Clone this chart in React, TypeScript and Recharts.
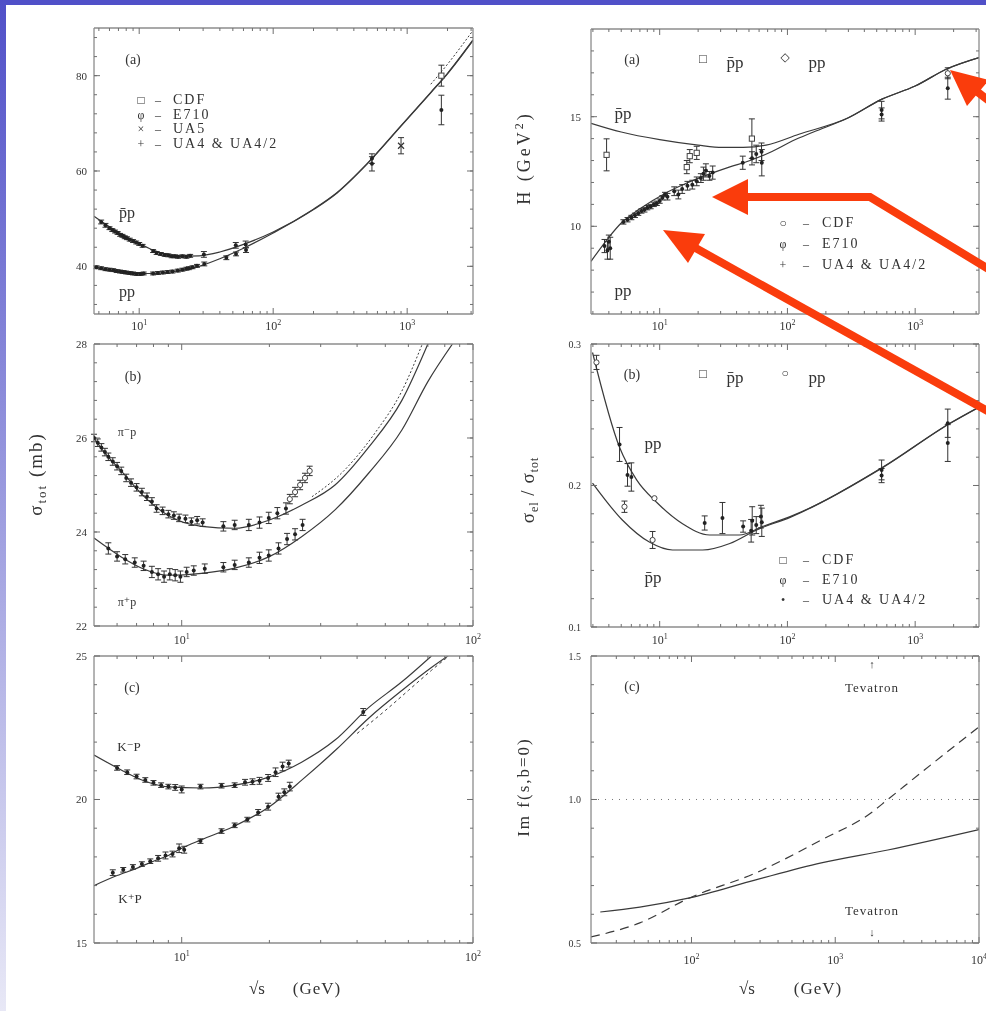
import React from "react";
import { ComposedChart, Line, Scatter, XAxis, YAxis, ErrorBar, ReferenceLine } from "recharts";

const FONT = "'Liberation Serif', 'DejaVu Serif', serif";
const INK = "#333";
const FRAME = "#8c8c8c";
const CURVE = "#3a3a3a";
const RED = "#fa3c0c";
const THIN = 0.01;

// left (a): sigma_tot for pbar-p and pp, [sqrt(s), mb, err]
const LA_PBARP_FIT = [[4.6, 50.5], [6, 48.3], [8, 46.2], [10, 44.8], [13, 43.3], [16, 42.5], [20, 42.1], [28, 42.2], [40, 43.0], [60, 44.6], [100, 47.2], [200, 52.0], [300, 55.5], [500, 61.5], [900, 69.5], [1500, 76.5], [2000, 80.5], [3100, 87.5]];
const LA_PP_FIT = [[4.6, 39.9], [6, 39.2], [8, 38.7], [10, 38.5], [13, 38.5], [16, 38.7], [20, 39.1], [28, 40.0], [40, 41.6], [60, 43.8], [100, 47.0], [200, 51.9], [300, 55.4], [500, 61.4], [900, 69.4], [1500, 76.4], [2000, 80.4], [3100, 87.4]];
const LA_BAND = [[1500, 78.2], [2000, 82.4], [3100, 89.5]];
const LA_PBARP_DATA = [[5.2, 49.3, 0.4], [5.6, 48.6, 0.4], [6.0, 48.0, 0.3], [6.3, 47.6, 0.3], [6.6, 47.3, 0.3], [6.9, 47.0, 0.3], [7.2, 46.6, 0.3], [7.5, 46.4, 0.3], [7.8, 46.1, 0.3], [8.1, 45.9, 0.3], [8.5, 45.6, 0.3], [9.0, 45.3, 0.3], [9.5, 45.0, 0.3], [10.0, 44.7, 0.3], [10.6, 44.3, 0.3], [12.7, 43.2, 0.3], [13.5, 42.8, 0.3], [14.5, 42.6, 0.3], [15.5, 42.4, 0.3], [16.5, 42.3, 0.3], [17.5, 42.1, 0.3], [18.5, 42.1, 0.3], [19.5, 42.0, 0.3], [21, 42.1, 0.3], [22.5, 42.0, 0.3], [24, 42.2, 0.3], [30.4, 42.5, 0.6], [52.6, 44.4, 0.6], [62.3, 44.6, 0.7]];
const LA_PP_DATA = [[4.8, 39.8, 0.3], [5.2, 39.6, 0.3], [5.6, 39.4, 0.3], [6.0, 39.3, 0.3], [6.4, 39.2, 0.3], [6.8, 39.0, 0.3], [7.2, 38.9, 0.3], [7.6, 38.8, 0.3], [8.0, 38.7, 0.3], [8.5, 38.6, 0.3], [9.0, 38.5, 0.3], [9.6, 38.4, 0.3], [10.2, 38.4, 0.3], [10.8, 38.5, 0.3], [12.7, 38.5, 0.3], [13.8, 38.6, 0.3], [15, 38.7, 0.3], [16.3, 38.8, 0.3], [17.7, 38.9, 0.3], [19.4, 39.1, 0.3], [21, 39.3, 0.3], [22.5, 39.5, 0.3], [23.5, 39.6, 0.3], [25, 39.8, 0.3], [27, 40.1, 0.3], [30.6, 40.5, 0.4], [44.7, 41.8, 0.4], [52.8, 42.6, 0.4], [62.7, 43.4, 0.5]];
const LA_UA4 = [[546, 61.5, 1.5], [546, 62.6, 1.0]];
const LA_UA5 = [[900, 65.3, 1.7]];
const LA_E710 = [[1800, 72.8, 3.1]];
const LA_CDF = [[1800, 80.0, 2.2]];

// left (b): pi-p and pi+p
const LB_PIMP_FIT = [[5, 26.0], [5.5, 25.65], [6.2, 25.3], [7.3, 24.8], [9, 24.35], [11.7, 24.12], [15.2, 24.08], [19.9, 24.25], [25.8, 24.57], [33.6, 25.0], [43.8, 25.8], [57, 26.8], [70, 28.0]];
const LB_PIPP_FIT = [[5, 23.87], [6.2, 23.47], [7.3, 23.23], [9, 23.08], [11.7, 23.12], [15.2, 23.23], [19.9, 23.47], [25.8, 23.9], [33.6, 24.47], [43.8, 25.25], [57, 26.17], [70, 27.2], [85, 28.0]];
const LB_BAND = [[28, 24.75], [36, 25.3], [46, 26.1], [57, 27.0], [67, 28.0]];
const LB_PIMP_DATA = [[5.0, 26.0, 0.08], [5.15, 25.9, 0.08], [5.3, 25.8, 0.08], [5.45, 25.7, 0.08], [5.6, 25.6, 0.08], [5.8, 25.5, 0.08], [6.0, 25.4, 0.08], [6.2, 25.3, 0.08], [6.45, 25.15, 0.08], [6.7, 25.05, 0.08], [7.0, 24.95, 0.08], [7.3, 24.85, 0.08], [7.6, 24.75, 0.08], [7.9, 24.65, 0.08], [8.2, 24.5, 0.08], [8.6, 24.45, 0.08], [9.0, 24.38, 0.08], [9.4, 24.35, 0.08], [9.8, 24.3, 0.08], [10.3, 24.28, 0.08], [10.8, 24.22, 0.08], [11.3, 24.25, 0.08], [11.8, 24.2, 0.08], [13.9, 24.12, 0.1], [15.2, 24.15, 0.1], [17.0, 24.15, 0.12], [18.5, 24.2, 0.12], [19.9, 24.3, 0.12], [21.3, 24.4, 0.12], [22.8, 24.5, 0.12]];
const LB_PIMP_ISR = [[23.5, 24.7, 0.1], [24.5, 24.85, 0.1], [25.5, 25.0, 0.1], [26.5, 25.15, 0.1], [27.5, 25.3, 0.1]];
const LB_PIPP_DATA = [[5.6, 23.65, 0.12], [6.0, 23.48, 0.1], [6.4, 23.42, 0.1], [6.9, 23.35, 0.1], [7.4, 23.28, 0.1], [7.9, 23.15, 0.12], [8.3, 23.1, 0.12], [8.7, 23.05, 0.12], [9.1, 23.1, 0.12], [9.5, 23.08, 0.12], [9.9, 23.05, 0.12], [10.4, 23.15, 0.1], [11.0, 23.18, 0.1], [12.0, 23.22, 0.1], [13.9, 23.25, 0.1], [15.2, 23.3, 0.1], [17.0, 23.35, 0.1], [18.5, 23.45, 0.12], [19.9, 23.5, 0.12], [21.5, 23.65, 0.12], [23.0, 23.85, 0.12], [24.5, 23.95, 0.12], [26.0, 24.15, 0.12]];

// left (c): K-p and K+p
const LC_KMP_FIT = [[5, 21.55], [6.2, 21.03], [7.3, 20.68], [9, 20.44], [11.7, 20.4], [15.2, 20.5], [19.9, 20.78], [25.8, 21.3], [33.6, 22.07], [43.8, 23.2], [57, 24.1], [72, 25.0]];
const LC_KPP_FIT = [[5, 17.0], [6, 17.35], [7, 17.6], [8, 17.85], [9, 18.05], [10, 18.3], [11.7, 18.6], [15, 19.05], [20, 19.75], [26, 20.7], [34, 21.75], [44, 22.85], [57, 23.8], [72, 24.6], [82, 25.0]];
const LC_BAND = [[40, 22.3], [50, 23.1], [60, 23.8], [72, 24.5], [85, 25.1]];
const LC_KMP_DATA = [[6.0, 21.1, 0.08], [6.5, 20.95, 0.08], [7.0, 20.8, 0.08], [7.5, 20.68, 0.08], [8.0, 20.58, 0.08], [8.5, 20.5, 0.08], [9.0, 20.45, 0.08], [9.5, 20.42, 0.1], [10.0, 20.35, 0.12], [11.6, 20.45, 0.08], [13.7, 20.48, 0.08], [15.2, 20.5, 0.08], [16.5, 20.6, 0.1], [17.5, 20.62, 0.1], [18.5, 20.65, 0.12], [19.8, 20.75, 0.12], [21.0, 20.95, 0.15], [22.2, 21.15, 0.15], [23.3, 21.25, 0.12], [42, 23.05, 0.12]];
const LC_KPP_DATA = [[5.8, 17.45, 0.1], [6.3, 17.55, 0.08], [6.8, 17.65, 0.08], [7.3, 17.75, 0.08], [7.8, 17.85, 0.08], [8.3, 17.95, 0.1], [8.8, 18.05, 0.12], [9.3, 18.1, 0.1], [9.8, 18.3, 0.15], [10.2, 18.25, 0.12], [11.6, 18.55, 0.08], [13.7, 18.9, 0.08], [15.2, 19.1, 0.08], [16.8, 19.3, 0.08], [18.3, 19.55, 0.1], [19.8, 19.75, 0.12], [21.5, 20.1, 0.12], [22.5, 20.25, 0.12], [23.5, 20.45, 0.15]];

// right (a): slope H (GeV^2)
const RA_PBARP_FIT = [[2.9, 14.7], [5, 14.3], [10, 13.95], [20, 13.7], [31, 13.6], [45, 13.6], [68, 13.7], [123, 14.2], [300, 14.95], [550, 15.8], [1000, 16.4], [1800, 17.2], [3160, 17.7]];
const RA_PP_FIT = [[2.9, 8.4], [4, 9.5], [5, 10.15], [7, 10.8], [11, 11.5], [16, 11.95], [25, 12.4], [35, 12.7], [51, 13.0], [75, 13.4], [110, 13.9], [160, 14.3], [300, 14.95], [550, 15.8], [1000, 16.4], [1800, 17.2], [3160, 17.7]];
const RA_PBARP_OPEN = [[3.84, 13.26, 0.73], [16.3, 12.7, 0.3], [17.2, 13.2, 0.3], [19.5, 13.35, 0.3], [52.7, 14.0, 0.9]];
const RA_PP_DATA = [[3.7, 9.1, 0.3], [3.9, 8.9, 0.4], [4.0, 9.3, 0.3], [4.1, 9.0, 0.5], [5.2, 10.2, 0.1], [5.6, 10.3, 0.1], [6.0, 10.4, 0.1], [6.4, 10.5, 0.1], [6.8, 10.6, 0.1], [7.2, 10.7, 0.1], [7.6, 10.75, 0.1], [8.0, 10.85, 0.1], [8.5, 10.9, 0.1], [9.0, 11.0, 0.1], [9.5, 11.05, 0.1], [10.0, 11.15, 0.1], [10.5, 11.3, 0.1], [11.0, 11.45, 0.1], [11.5, 11.35, 0.15], [13.0, 11.6, 0.2], [14.0, 11.45, 0.2], [15.0, 11.7, 0.2], [16.5, 11.85, 0.2], [18.0, 11.9, 0.2], [19.5, 12.05, 0.2], [21.0, 12.2, 0.2], [22.0, 12.4, 0.3], [23.0, 12.55, 0.3], [24.5, 12.3, 0.2], [26.0, 12.45, 0.3], [44.7, 12.9, 0.3], [52.8, 13.1, 0.3], [57, 13.3, 0.4], [62.7, 13.4, 0.4], [63, 12.9, 0.6], [546, 15.3, 0.4], [546, 15.1, 0.3], [1800, 16.3, 0.5]];
const RA_CDF = [[1800, 16.98, 0.25]];

// right (b): sigma_el / sigma_tot
const RB_PP_FIT = [[2.98, 0.294], [4.85, 0.227], [6.6, 0.204], [9.5, 0.188], [15.1, 0.173], [24.6, 0.165], [42, 0.165], [64, 0.171], [105, 0.178], [560, 0.213], [1870, 0.244], [3160, 0.2555]];
const RB_PBARP_FIT = [[2.98, 0.2017], [5.1, 0.1756], [8.3, 0.16], [12.6, 0.1544], [21.7, 0.1544], [35.4, 0.159], [57.5, 0.1686], [105, 0.1775], [560, 0.2128], [1870, 0.2438], [3160, 0.2553]];
const RB_FILLED = [[4.85, 0.229, 0.012], [5.6, 0.2075, 0.008], [6.0, 0.206, 0.01], [22.5, 0.1735, 0.005], [31, 0.177, 0.011], [45, 0.171, 0.004], [52, 0.168, 0.008], [53, 0.175, 0.01], [57, 0.172, 0.006], [62, 0.178, 0.008], [63, 0.174, 0.01], [546, 0.211, 0.007], [546, 0.207, 0.005], [1800, 0.244, 0.01], [1800, 0.23, 0.013]];
const RB_OPEN = [[3.2, 0.287, 0.005], [5.3, 0.185, 0.004], [8.8, 0.1615, 0.006], [9.1, 0.191, 0]];

// right (c): Im f(s, b=0)
const RC_SOLID = [[23.2, 0.608], [43.7, 0.625], [97, 0.657], [280, 0.72], [800, 0.779], [2320, 0.824], [10000, 0.895]];
const RC_DASHED = [[20, 0.521], [43.7, 0.57], [97, 0.657], [280, 0.744], [800, 0.859], [1770, 0.953], [2320, 1.0], [3920, 1.092], [10000, 1.253]];

const P = (a: number[][]) => a.map(([x, y, e = 0]) => ({ x, y, e }));

function logMinor(lo: number, hi: number) {
  const out: number[] = [];
  for (let d = 1; d <= 10000; d *= 10) for (let k = 2; k <= 9; k++) { const v = k * d; if (v > lo && v < hi) out.push(v); }
  return out;
}
function linStep(lo: number, hi: number, step: number) {
  const out: number[] = [];
  const n = Math.round((hi - lo) / step);
  for (let i = 1; i < n; i++) out.push(+(lo + i * step).toFixed(4));
  return out;
}

function PowTick(props: any) {
  const { x, y, payload } = props;
  const e = Math.round(Math.log10(payload.value));
  return (
    <text x={x} y={y + 10} textAnchor="middle" fontFamily={FONT} fontSize={12} fill={INK}>
      10<tspan dy={-5} fontSize={8}>{e}</tspan>
    </text>
  );
}
const NoTick = () => <g />;

const dotShape = (p: any) => <circle cx={p.cx} cy={p.cy} r={2} fill="#222" />;
const ringShape = (p: any) => <circle cx={p.cx} cy={p.cy} r={2.6} fill="#fff" stroke="#444" strokeWidth={1} />;
const boxShape = (p: any) => <rect x={p.cx - 2.6} y={p.cy - 2.6} width={5.2} height={5.2} fill="#fff" stroke="#444" strokeWidth={1} />;
const crossShape = (p: any) => (
  <path d={`M${p.cx - 3},${p.cy - 3}L${p.cx + 3},${p.cy + 3}M${p.cx - 3},${p.cy + 3}L${p.cx + 3},${p.cy - 3}`} stroke="#333" strokeWidth={1.2} />
);

function dots(id: string, data: number[][], shape: any) {
  return (
    <Scatter key={id} data={P(data)} dataKey="y" xAxisId="m" yAxisId="m" shape={shape} isAnimationActive={false}>
      <ErrorBar dataKey="e" direction="y" width={3} stroke="#333" strokeWidth={1} />
    </Scatter>
  );
}
function fit(id: string, data: number[][], extra: any = {}) {
  return (
    <Line key={id} data={P(data)} dataKey="y" xAxisId="m" yAxisId="m" type="monotone" dot={false}
      stroke={CURVE} strokeWidth={1.2} isAnimationActive={false} {...extra} />
  );
}

function Panel({ box, xd, yd, xt, yt, ym, yFmt, xGap = 5, yGap = 7, yFont = 11, children }: any) {
  const [px, py, pw, ph] = box;
  const m = { top: 10, right: 12, bottom: 34, left: 56 };
  const xm = logMinor(xd[0], xd[1]);
  const xs = { type: "number" as const, scale: "log" as const, dataKey: "x", domain: xd, allowDataOverflow: true, interval: 0 as const, height: THIN };
  const ys = { type: "number" as const, domain: yd, allowDataOverflow: true, interval: 0 as const, width: THIN };
  const tl = { stroke: "#6f6f6f", strokeWidth: 1 };
  const fr = { stroke: FRAME, strokeWidth: 1.3 };
  // invisible anchor series so that every log tick axis gets a domain
  const span = P([[xd[0], yd[0]], [xd[1], yd[0]]]);
  const anchor = (id: string) => (
    <Line key={"anc" + id} data={span} dataKey="y" xAxisId={id} yAxisId="m" stroke="none" dot={false} isAnimationActive={false} />
  );
  return (
    <div style={{ position: "absolute", left: px - m.left, top: py - m.top }}>
      <ComposedChart width={pw + m.left + m.right} height={ph + m.top + m.bottom} margin={m}>
        <XAxis xAxisId="m" {...xs} ticks={xt} tickSize={0} tickMargin={xGap} tickLine={false} axisLine={fr} tick={<PowTick />} />
        <XAxis xAxisId="bM" {...xs} ticks={xt} mirror orientation="bottom" tick={NoTick} tickSize={6} tickLine={tl} axisLine={false} />
        <XAxis xAxisId="bm" {...xs} ticks={xm} mirror orientation="bottom" tick={NoTick} tickSize={3} tickLine={tl} axisLine={false} />
        <XAxis xAxisId="tM" {...xs} ticks={xt} mirror orientation="top" tick={NoTick} tickSize={6} tickLine={tl} axisLine={fr} />
        <XAxis xAxisId="tm" {...xs} ticks={xm} mirror orientation="top" tick={NoTick} tickSize={3} tickLine={tl} axisLine={false} />
        <YAxis yAxisId="m" {...ys} ticks={yt} tickSize={0} tickMargin={yGap} tickLine={false} axisLine={fr}
          tickFormatter={yFmt} tick={{ fontSize: yFont, fill: INK, fontFamily: FONT }} />
        <YAxis yAxisId="lM" {...ys} ticks={yt} mirror tick={NoTick} tickSize={6} tickLine={tl} axisLine={false} />
        <YAxis yAxisId="lm" {...ys} ticks={ym} mirror tick={NoTick} tickSize={3} tickLine={tl} axisLine={false} />
        <YAxis yAxisId="rM" {...ys} ticks={yt} mirror orientation="right" tick={NoTick} tickSize={6} tickLine={tl} axisLine={fr} />
        <YAxis yAxisId="rm" {...ys} ticks={ym} mirror orientation="right" tick={NoTick} tickSize={3} tickLine={tl} axisLine={false} />
        {["bM", "bm", "tM", "tm"].map(anchor)}
        {children}
      </ComposedChart>
    </div>
  );
}

function Txt({ x, y, size = 14, rot = 0, left = false, ls = 0, children }: any) {
  return (
    <div style={{
      position: "absolute", left: x, top: y, transform: `translate(${left ? "0" : "-50%"}, -50%) rotate(${rot}deg)`,
      fontFamily: FONT, fontSize: size, color: INK, whiteSpace: "nowrap", lineHeight: 1, letterSpacing: ls,
    }}>{children}</div>
  );
}

const PB = "p\u0304p";

function Legend({ x, y, rows, gap, dash, text }: any) {
  return (
    <>
      {rows.map((r: string[], i: number) => (
        <React.Fragment key={i}>
          <Txt x={x} y={y + i * gap} size={12}>{r[0]}</Txt>
          <Txt x={x + dash} y={y + i * gap} size={12}>–</Txt>
          <Txt x={x + text} y={y + i * gap} size={14} ls={2} left>{r[1]}</Txt>
        </React.Fragment>
      ))}
    </>
  );
}

const f1 = (v: number) => v.toFixed(1);

export default function App() {
  return (
    <div style={{ position: "absolute", left: 0, top: 0, width: 986, height: 1011, overflow: "hidden", background: "#fff" }}>
      <div style={{ position: "absolute", left: 0, top: 0, width: 986, height: 5, background: "#5050c8" }} />
      <div style={{ position: "absolute", left: 0, top: 0, width: 6, height: 1011, background: "linear-gradient(#5050c8, #e8e8f6)" }} />

      <div style={{ position: "absolute", left: 0, top: 0, width: 986, height: 1011, filter: "blur(0.35px)" }}>
        <Panel box={[94, 28, 379, 286]} xd={[4.6, 3100]} yd={[30, 90]} xt={[10, 100, 1000]} yt={[40, 60, 80]} ym={linStep(28, 92, 4)} xGap={6}>
          {[
            fit("a1", LA_PBARP_FIT), fit("a2", LA_PP_FIT), fit("a3", LA_BAND, { strokeDasharray: "2 2", strokeWidth: 1 }),
            dots("d1", LA_PBARP_DATA, dotShape), dots("d2", LA_PP_DATA, dotShape), dots("d3", LA_UA4, dotShape),
            dots("d4", LA_UA5, crossShape), dots("d5", LA_E710, dotShape), dots("d6", LA_CDF, boxShape),
          ]}
        </Panel>
        <Panel box={[94, 344, 379, 282]} xd={[5, 100]} yd={[22, 28]} xt={[10, 100]} yt={[22, 24, 26, 28]} ym={linStep(22, 28, 0.4)} xGap={8}>
          {[
            fit("b1", LB_PIMP_FIT), fit("b2", LB_PIPP_FIT), fit("b3", LB_BAND, { strokeDasharray: "2 2", strokeWidth: 1 }),
            dots("e1", LB_PIMP_DATA, dotShape), dots("e2", LB_PIMP_ISR, ringShape), dots("e3", LB_PIPP_DATA, dotShape),
          ]}
        </Panel>
        <Panel box={[94, 656, 379, 287]} xd={[5, 100]} yd={[15, 25]} xt={[10, 100]} yt={[15, 20, 25]} ym={linStep(15, 25, 1)} xGap={8}>
          {[
            fit("c1", LC_KMP_FIT), fit("c2", LC_KPP_FIT), fit("c3", LC_BAND, { strokeDasharray: "3 3", strokeWidth: 1 }),
            dots("g1", LC_KMP_DATA, dotShape), dots("g2", LC_KPP_DATA, dotShape),
          ]}
        </Panel>
        <Panel box={[591, 29, 388, 285]} xd={[2.9, 3160]} yd={[6, 19]} xt={[10, 100, 1000]} yt={[10, 15]} ym={linStep(6, 19, 1)} xGap={6} yGap={10}>
          {[
            fit("h1", RA_PBARP_FIT), fit("h2", RA_PP_FIT),
            dots("k1", RA_PP_DATA, dotShape), dots("k2", RA_PBARP_OPEN, boxShape), dots("k3", RA_CDF, ringShape),
          ]}
        </Panel>
        <Panel box={[591, 344, 388, 283]} xd={[2.9, 3160]} yd={[0.1, 0.3]} xt={[10, 100, 1000]} yt={[0.1, 0.2, 0.3]} ym={linStep(0.1, 0.3, 0.02)} yFmt={f1} xGap={7} yGap={10} yFont={10}>
          {[
            fit("i1", RB_PP_FIT), fit("i2", RB_PBARP_FIT),
            dots("m1", RB_FILLED, dotShape), dots("m2", RB_OPEN, ringShape),
          ]}
        </Panel>
        <Panel box={[591, 656, 388, 287]} xd={[20, 10000]} yd={[0.5, 1.5]} xt={[100, 1000, 10000]} yt={[0.5, 1, 1.5]} ym={linStep(0.5, 1.5, 0.1)} yFmt={f1} xGap={11} yGap={10} yFont={10}>
          {[
            <ReferenceLine key="r1" y={1} xAxisId="m" yAxisId="m" stroke="#777" strokeDasharray="1 6" />,
            fit("j1", RC_SOLID), fit("j2", RC_DASHED, { strokeDasharray: "9 6" }),
          ]}
        </Panel>

        {/* left column annotations */}
        <Txt x={133} y={60}>(a)</Txt>
        <Legend x={141} y={100} gap={14.7} dash={17} text={32} rows={[["□", "CDF"], ["φ", "E710"], ["×", "UA5"], ["+", "UA4 & UA4/2"]]} />
        <Txt x={127} y={213} size={16}>{PB}</Txt>
        <Txt x={127} y={292} size={16}>pp</Txt>
        <Txt x={133} y={377}>(b)</Txt>
        <Txt x={127} y={432} size={12}>π⁻p</Txt>
        <Txt x={127} y={602} size={12}>π⁺p</Txt>
        <Txt x={132} y={688}>(c)</Txt>
        <Txt x={129} y={746} size={13}>K⁻P</Txt>
        <Txt x={130} y={898} size={13}>K⁺P</Txt>
        <Txt x={37} y={474} size={19} rot={-90} ls={2}>σ<sub style={{ fontSize: 13 }}>tot</sub> (mb)</Txt>
        <Txt x={257} y={988} size={17}>√s</Txt>
        <Txt x={317} y={988} size={17} ls={1}>(GeV)</Txt>

        {/* right column annotations */}
        <Txt x={632} y={60}>(a)</Txt>
        <Txt x={703} y={58} size={13}>□</Txt>
        <Txt x={735} y={62} size={17}>{PB}</Txt>
        <Txt x={785} y={57} size={12}>◇</Txt>
        <Txt x={817} y={62} size={17}>pp</Txt>
        <Txt x={623} y={113} size={17}>{PB}</Txt>
        <Txt x={623} y={290} size={17}>pp</Txt>
        <Legend x={783} y={223} gap={21} dash={23} text={39} rows={[["○", "CDF"], ["φ", "E710"], ["+", "UA4 & UA4/2"]]} />
        <Txt x={523} y={158} size={18} rot={-90} ls={3}>H (GeV<sup style={{ fontSize: 12 }}>2</sup>)</Txt>

        <Txt x={632} y={375}>(b)</Txt>
        <Txt x={703} y={373} size={13}>□</Txt>
        <Txt x={735} y={377} size={17}>{PB}</Txt>
        <Txt x={785} y={373} size={12}>○</Txt>
        <Txt x={817} y={377} size={17}>pp</Txt>
        <Txt x={653} y={443} size={17}>pp</Txt>
        <Txt x={653} y={577} size={17}>{PB}</Txt>
        <Legend x={783} y={560} gap={20} dash={23} text={39} rows={[["□", "CDF"], ["φ", "E710"], ["•", "UA4 & UA4/2"]]} />
        <Txt x={529} y={490} size={19} rot={-90} ls={1}>σ<sub style={{ fontSize: 12 }}>el</sub> / σ<sub style={{ fontSize: 12 }}>tot</sub></Txt>

        <Txt x={632} y={687}>(c)</Txt>
        <Txt x={872} y={664} size={11}>↑</Txt>
        <Txt x={872} y={687} size={13} ls={1}>Tevatron</Txt>
        <Txt x={872} y={910} size={13} ls={1}>Tevatron</Txt>
        <Txt x={872} y={932} size={11}>↓</Txt>
        <Txt x={523} y={787} size={17} rot={-90} ls={2}>Im f(s,b=0)</Txt>
        <Txt x={747} y={988} size={17}>√s</Txt>
        <Txt x={818} y={988} size={17} ls={1}>(GeV)</Txt>
      </div>

      <svg width={986} height={1011} style={{ position: "absolute", left: 0, top: 0, pointerEvents: "none" }}>
        <g fill={RED} stroke={RED}>
          <polyline points="1000,276 870,197 744,197" fill="none" strokeWidth={8} />
          <polygon points="712,197 748,179 748,215" stroke="none" />
          <line x1={1000} y1={418} x2={692} y2={246} strokeWidth={8} />
          <polygon points="663,230 688,263 705,234" stroke="none" />
          <line x1={1010} y1={117} x2={975} y2={90} strokeWidth={8} />
          <polygon points="950,70 967,106 989,80" stroke="none" />
        </g>
      </svg>
    </div>
  );
}
